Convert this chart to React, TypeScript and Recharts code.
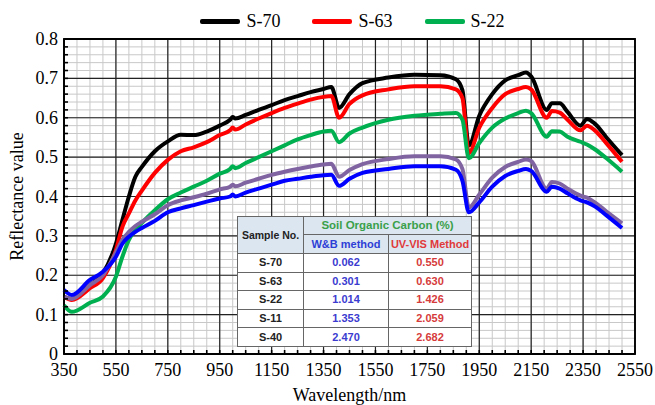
import React from "react";
import {
  LineChart, Line, XAxis, YAxis, CartesianGrid, Legend, ReferenceArea,
} from "recharts";

// wavelength (nm) shared by all five spectra
const wavelengths = [
  350, 380, 450, 500, 550, 575, 600, 625, 650, 700, 750, 800, 850, 900, 950, 990, 1000, 1010,
  1050, 1100, 1150, 1200, 1250, 1300, 1350, 1380, 1410, 1450, 1500, 1600, 1700, 1800, 1860,
  1885, 1910, 1950, 2000, 2050, 2100, 2130, 2150, 2210, 2230, 2260, 2290, 2340, 2365, 2395,
  2440, 2500,
];

const s70 = [
  0.145, 0.14, 0.175, 0.205, 0.28, 0.34, 0.4, 0.45, 0.475, 0.515, 0.54, 0.557, 0.556, 0.565,
  0.58, 0.595, 0.602, 0.598, 0.607, 0.62, 0.632, 0.645, 0.655, 0.665, 0.673, 0.678, 0.625,
  0.66, 0.688, 0.702, 0.709, 0.708, 0.698, 0.67, 0.53, 0.605, 0.66, 0.695, 0.708, 0.715,
  0.705, 0.62, 0.637, 0.637, 0.615, 0.58, 0.597, 0.585, 0.55, 0.505,
];
const s63 = [
  0.145, 0.137, 0.167, 0.193, 0.264, 0.323, 0.357, 0.39, 0.415, 0.46, 0.493, 0.515, 0.525,
  0.538, 0.556, 0.568, 0.575, 0.57, 0.583, 0.598, 0.612, 0.625, 0.636, 0.646, 0.653, 0.655,
  0.6, 0.635, 0.657, 0.672, 0.68, 0.68, 0.672, 0.65, 0.51, 0.575, 0.625, 0.66, 0.673, 0.678,
  0.672, 0.6, 0.617, 0.613, 0.595, 0.568, 0.58, 0.568, 0.535, 0.488,
];
const s22 = [
  0.124, 0.107, 0.13, 0.146, 0.196, 0.247, 0.29, 0.315, 0.333, 0.365, 0.393, 0.41, 0.425,
  0.44, 0.458, 0.47, 0.477, 0.472, 0.485, 0.5, 0.515, 0.53, 0.545, 0.556, 0.565, 0.567, 0.538,
  0.56, 0.575, 0.595, 0.605, 0.61, 0.612, 0.595, 0.497, 0.536, 0.575, 0.598, 0.612, 0.618,
  0.612, 0.552, 0.566, 0.565, 0.552, 0.539, 0.532, 0.52, 0.497, 0.463,
];
const s40 = [
  0.145, 0.14, 0.175, 0.2, 0.258, 0.29, 0.31, 0.325, 0.336, 0.355, 0.378, 0.39, 0.398, 0.407,
  0.418, 0.425, 0.43, 0.426, 0.435, 0.445, 0.455, 0.463, 0.47, 0.476, 0.481, 0.483, 0.45,
  0.467, 0.482, 0.495, 0.502, 0.502, 0.494, 0.47, 0.372, 0.405, 0.448, 0.475, 0.488, 0.494,
  0.49, 0.42, 0.437, 0.433, 0.42, 0.402, 0.397, 0.385, 0.362, 0.332,
];
const s11 = [
  0.163, 0.15, 0.188, 0.209, 0.247, 0.28, 0.298, 0.31, 0.32, 0.338, 0.36, 0.37, 0.378, 0.387,
  0.395, 0.4, 0.405, 0.4, 0.41, 0.42, 0.43, 0.44, 0.445, 0.45, 0.454, 0.455, 0.427, 0.445,
  0.46, 0.47, 0.477, 0.477, 0.468, 0.44, 0.36, 0.385, 0.425, 0.452, 0.465, 0.47, 0.465, 0.412,
  0.425, 0.42, 0.408, 0.39, 0.385, 0.375, 0.352, 0.32,
];

const xMajor = [350, 550, 750, 950, 1150, 1350, 1550, 1750, 1950, 2150, 2350, 2550];
const yMajor = [0, 0.1, 0.2, 0.3, 0.4, 0.5, 0.6, 0.7, 0.8];
// minor grid: every 50 nm and every 0.02
const xMinor = Array.from({ length: 45 }, (_, i) => 350 + i * 50);
const yMinor = Array.from({ length: 41 }, (_, i) => Math.round(i * 2) / 100);
const isMajorY = (v: number) => yMajor.some((m) => Math.abs(m - v) < 1e-6);

// only these three are in the legend, in this order
const legendOrder = ["S-70", "S-63", "S-22"];

// table
const samples = ["S-70", "S-63", "S-22", "S-11", "S-40"];
const wbMethod = ["0.062", "0.301", "1.014", "1.353", "2.470"];
const uvMethod = ["0.550", "0.630", "1.426", "2.059", "2.682"];

const data = wavelengths.map((wl, i) => ({
  wl, s70: s70[i], s63: s63[i], s22: s22[i], s40: s40[i], s11: s11[i],
}));

const SERIF = "'Liberation Serif', 'Times New Roman', serif";
const SANS = "'Liberation Sans', Arial, sans-serif";

function XTick({ x, y, payload }: any) {
  const v = payload.value;
  return (
    <g>
      <line x1={x} x2={x} y1={y} y2={y - 4} stroke="#000" strokeWidth={1.6} />
      {xMajor.includes(v) && (
        <text x={x} y={y + 22} textAnchor="middle" fontSize={18} fontFamily={SERIF} fill="#000">
          {v}
        </text>
      )}
    </g>
  );
}

function YTick({ x, y, payload }: any) {
  const v = payload.value;
  return (
    <g>
      <line x1={x} x2={x + 4} y1={y} y2={y} stroke="#000" strokeWidth={1.6} />
      {isMajorY(v) && (
        <text x={x - 6} y={y + 6} textAnchor="end" fontSize={18} fontFamily={SERIF} fill="#000">
          {v === 0 ? "0" : v.toFixed(1)}
        </text>
      )}
    </g>
  );
}

// major grid lines drawn by index over the minor tick grid
const majorH = (p: any) =>
  isMajorY(yMinor[p.index]) ? (
    <line key={p.key} x1={p.x1} x2={p.x2} y1={p.y1} y2={p.y2} stroke="#222" strokeWidth={1.2} />
  ) : (
    <g key={p.key} />
  );
const majorV = (p: any) =>
  xMajor.includes(xMinor[p.index]) ? (
    <line key={p.key} x1={p.x1} x2={p.x2} y1={p.y1} y2={p.y2} stroke="#222" strokeWidth={1.2} />
  ) : (
    <g key={p.key} />
  );

function LegendContent({ payload }: any) {
  const items = legendOrder
    .map((name) => (payload ?? []).find((p: any) => p.value === name))
    .filter(Boolean);
  return (
    <div style={{ display: "flex", justifyContent: "center", paddingLeft: 50, height: 35, alignItems: "flex-start" }}>
      {items.map((p: any, i: number) => (
        <div key={p.value} style={{ display: "flex", alignItems: "center", marginLeft: i ? 32 : 0, height: 34 }}>
          <div style={{ width: 40, height: 5, background: p.color, borderRadius: 2 }} />
          <span style={{ marginLeft: 6, fontFamily: SERIF, fontSize: 18, color: "#000" }}>{p.value}</span>
        </div>
      ))}
    </div>
  );
}

const cell: React.CSSProperties = {
  border: "1px solid #666", padding: 0, textAlign: "center", lineHeight: "13px",
};

export default function App() {
  return (
    <div style={{ position: "absolute", left: 0, top: 0, width: 655, height: 405, background: "#fff" }}>
      <LineChart width={655} height={405} data={data} margin={{ top: 4, right: 20, bottom: 0, left: 0 }}>
        <CartesianGrid stroke="#c8c8c8" strokeWidth={1} />
        <CartesianGrid horizontal={majorH} vertical={majorV} />
        <XAxis
          type="number"
          dataKey="wl"
          domain={[350, 2550]}
          ticks={xMinor}
          interval={0}
          tickSize={0}
          tickMargin={0}
          tickLine={false}
          tick={<XTick />}
          height={51}
          axisLine={{ stroke: "#000", strokeWidth: 1.5 }}
          label={{
            value: "Wavelength/nm", position: "insideBottom", offset: 4,
            style: { fontSize: 18, fontFamily: SERIF, fill: "#000" },
          }}
        />
        <YAxis
          type="number"
          domain={[0, 0.8]}
          ticks={yMinor}
          interval={0}
          tickSize={0}
          tickMargin={0}
          tickLine={false}
          tick={<YTick />}
          width={64}
          axisLine={{ stroke: "#000", strokeWidth: 1.5 }}
          label={{
            value: "Reflectance value", angle: -90, position: "insideLeft", offset: 17,
            style: { fontSize: 18, fontFamily: SERIF, fill: "#000", textAnchor: "middle" },
          }}
        />
        <Legend verticalAlign="top" height={35} content={<LegendContent />} wrapperStyle={{ left: 0, width: 655 }} />
        <ReferenceArea x1={350} x2={2550} y1={0} y2={0.8} fill="none" stroke="#000" strokeWidth={1.8} ifOverflow="visible" />
        <Line type="monotone" dataKey="s70" name="S-70" stroke="#000000" strokeWidth={4} dot={false} isAnimationActive={false} />
        <Line type="monotone" dataKey="s63" name="S-63" stroke="#ff0000" strokeWidth={4} dot={false} isAnimationActive={false} />
        <Line type="monotone" dataKey="s22" name="S-22" stroke="#00b050" strokeWidth={4} dot={false} isAnimationActive={false} />
        <Line type="monotone" dataKey="s40" name="S-40" stroke="#8064a2" strokeWidth={4} dot={false} legendType="none" isAnimationActive={false} />
        <Line type="monotone" dataKey="s11" name="S-11" stroke="#0000ff" strokeWidth={4} dot={false} legendType="none" isAnimationActive={false} />
      </LineChart>

      <table
        style={{
          position: "absolute", left: 237, top: 216, width: 234, borderCollapse: "collapse",
          fontFamily: SANS, fontWeight: 700, fontSize: 11, background: "#fff",
          border: "1.5px solid #777", tableLayout: "fixed",
        }}
      >
        <colgroup>
          <col style={{ width: 66 }} />
          <col style={{ width: 85 }} />
          <col style={{ width: 83 }} />
        </colgroup>
        <tbody>
          <tr style={{ height: 18, background: "#dce6f1" }}>
            <td rowSpan={2} style={{ ...cell, color: "#222", fontSize: 10.5 }}>Sample No.</td>
            <td colSpan={2} style={{ ...cell, color: "#3aa04a", fontSize: 11.5 }}>Soil Organic Carbon (%)</td>
          </tr>
          <tr style={{ height: 19, background: "#dce6f1" }}>
            <td style={{ ...cell, color: "#2e3fd6" }}>W&amp;B method</td>
            <td style={{ ...cell, color: "#e03a3a" }}>UV-VIS Method</td>
          </tr>
          {samples.map((s, i) => (
            <tr key={s} style={{ height: 18.6 }}>
              <td style={{ ...cell, color: "#222" }}>{s}</td>
              <td style={{ ...cell, color: "#3b3bd0" }}>{wbMethod[i]}</td>
              <td style={{ ...cell, color: "#d63b3b" }}>{uvMethod[i]}</td>
            </tr>
          ))}
        </tbody>
      </table>
    </div>
  );
}
